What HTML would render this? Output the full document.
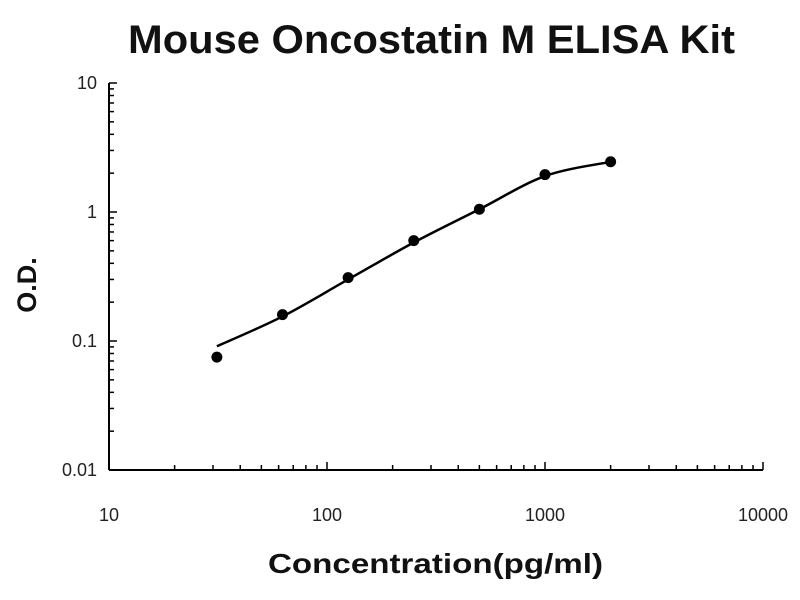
<!DOCTYPE html>
<html><head><meta charset="utf-8"><style>
body{margin:0;background:#fff;}
svg{display:block;font-family:"Liberation Sans",Arial,sans-serif;}
</style></head><body>
<svg id="chart" width="800" height="600" viewBox="0 0 800 600">
<text x="128" y="53" textLength="607" lengthAdjust="spacingAndGlyphs" font-size="40" font-weight="bold" fill="#111">Mouse Oncostatin M ELISA Kit</text>
<text x="268" y="573" textLength="335" lengthAdjust="spacingAndGlyphs" font-size="28" font-weight="bold" fill="#111">Concentration(pg/ml)</text>
<text transform="translate(36,285) rotate(-90)" text-anchor="middle" font-size="27" font-weight="bold" fill="#111">O.D.</text>
<g id="axes"></g>
<g id="marks"></g>
</svg>
<script>
const concentrations=[31.25,62.5,125,250,500,1000,2000];
const odValues=[0.075,0.16,0.31,0.6,1.05,1.95,2.45];
const fitValues=[0.091,0.155,0.3,0.58,1.05,1.9,2.45];
const xTicks=[10,100,1000,10000];
const xTickLabels=["10","100","1000","10000"];
const yTicks=[0.01,0.1,1,10];
const yTickLabels=["0.01","0.1","1","10"];

const X0=109,XD=218,Y0=83,YD=129;
const xs=v=>X0+XD*(Math.log10(v)-1);
const ys=v=>Y0+YD*(1-Math.log10(v));
const NS="http://www.w3.org/2000/svg";
const axes=document.getElementById('axes'),marks=document.getElementById('marks');
function mk(t,a,p){const e=document.createElementNS(NS,t);for(const k in a)e.setAttribute(k,a[k]);p.appendChild(e);return e;}

let e=mk('line',{x1:X0,y1:ys(0.01),x2:xs(10000),y2:ys(0.01),stroke:'#000','stroke-width':2},axes);


e=mk('line',{x1:X0,y1:ys(10),x2:X0,y2:ys(0.01),stroke:'#000','stroke-width':2},axes);



for(let d=1;d<4;d++)for(let m=1;m<=10;m++){const v=Math.pow(10,d)*m;if(m===1&&d>1)continue;
 const x=xs(v);const len=(m===1||m===10)?8:5;
 e=mk('line',{x1:x,y1:ys(0.01),x2:x,y2:ys(0.01)-len,stroke:'#000','stroke-width':1.5},axes);
 
 }
for(let d=-2;d<1;d++)for(let m=1;m<=10;m++){const v=Math.pow(10,d)*m;if(m===1&&d>-2)continue;
 const y=ys(v);const len=(m===1||m===10)?8:5;
 e=mk('line',{x1:X0,y1:y,x2:X0+len,y2:y,stroke:'#000','stroke-width':1.5},axes);
 
 }
xTicks.forEach((v,i)=>{e=mk('text',{x:xs(v),y:521,'text-anchor':'middle','font-size':18,fill:'#222'},axes);e.textContent=xTickLabels[i];
 
 });
yTicks.forEach((v,i)=>{e=mk('text',{x:97,y:ys(v)+6,'text-anchor':'end','font-size':18,fill:'#222'},axes);e.textContent=yTickLabels[i];
 
 });

const P=concentrations.map((c,i)=>[xs(c),ys(fitValues[i])]);
let d='M'+P[0][0]+','+P[0][1];
for(let i=0;i<P.length-1;i++){const p0=P[i-1]||P[i],p1=P[i],p2=P[i+1],p3=P[i+2]||p2;
 d+=' C'+(p1[0]+(p2[0]-p0[0])/6)+','+(p1[1]+(p2[1]-p0[1])/6)+' '+(p2[0]-(p3[0]-p1[0])/6)+','+(p2[1]-(p3[1]-p1[1])/6)+' '+p2[0]+','+p2[1];}
e=mk('path',{d:d,fill:'none',stroke:'#000','stroke-width':2.5},marks);


concentrations.forEach((c,i)=>{e=mk('circle',{cx:xs(c),cy:ys(odValues[i]),r:5.5,fill:'#000'},marks);
 
 });
</script>
</body></html>
